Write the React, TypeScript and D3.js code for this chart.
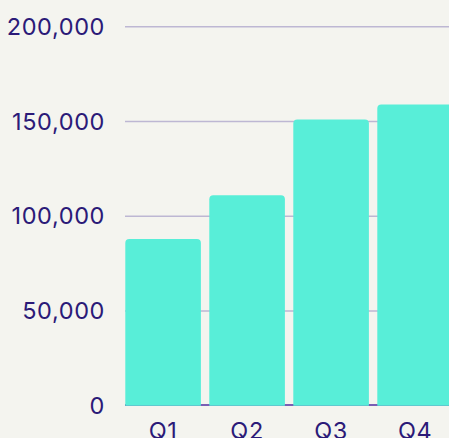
import React from "react";
import * as d3 from "d3";

const categories = ["Q1", "Q2", "Q3", "Q4"];
const values = [88000, 111000, 151000, 159000];
const yTicks = [0, 50000, 100000, 150000, 200000];

const W = 449;
const H = 438;
const TEXT = "#2b1a78";
const GRID = "#bdb7d3";
const BAR = "#58eed8";
const BG = "#f4f4ef";

function topRounded(x: number, y: number, w: number, h: number, r: number) {
  const rr = Math.min(r, h, w / 2);
  return `M${x},${y + h}V${y + rr}Q${x},${y} ${x + rr},${y}H${x + w - rr}Q${x + w},${y} ${x + w},${y + rr}V${y + h}Z`;
}

export default function App() {
  const y = d3.scaleLinear().domain([0, 200000]).range([405.7, 26.7]);
  const x = d3.scaleBand<string>().domain(categories).range([125.3, 452.9]).paddingInner(0.1).paddingOuter(0);
  const fmt = d3.format(",");
  const font = "Inter, 'Noto Sans', sans-serif";
  return (
    <svg width={W} height={H} style={{ position: "fixed", left: 0, top: 0, background: BG }}>
      <rect x={0} y={0} width={W} height={H} fill={BG} />
      {yTicks.map((t) => (
        <g key={t}>
          {t !== 0 && <line x1={125} x2={470} y1={y(t)} y2={y(t)} stroke={GRID} strokeWidth={1.5} />}
          <text x={105} y={y(t)} dy="0.35em" textAnchor="end" fill={TEXT} fontFamily={font} fontSize={23.5} letterSpacing={0.6}>
            {fmt(t)}
          </text>
        </g>
      ))}
      <line x1={125} x2={470} y1={y(0) - 0.7} y2={y(0) - 0.7} stroke="#7a5eb4" strokeWidth={2} />
      {categories.map((c, i) => (
        <path key={c} d={topRounded(x(c)!, y(values[i]), x.bandwidth(), y(0) - y(values[i]), 4)} fill={BAR} />
      ))}
      {categories.map((c) => (
        <text key={c} x={x(c)! + x.bandwidth() / 2} y={439} textAnchor="middle" fill={TEXT} fontFamily={font} fontSize={23.5} letterSpacing={0.6}>
          {c}
        </text>
      ))}
    </svg>
  );
}
